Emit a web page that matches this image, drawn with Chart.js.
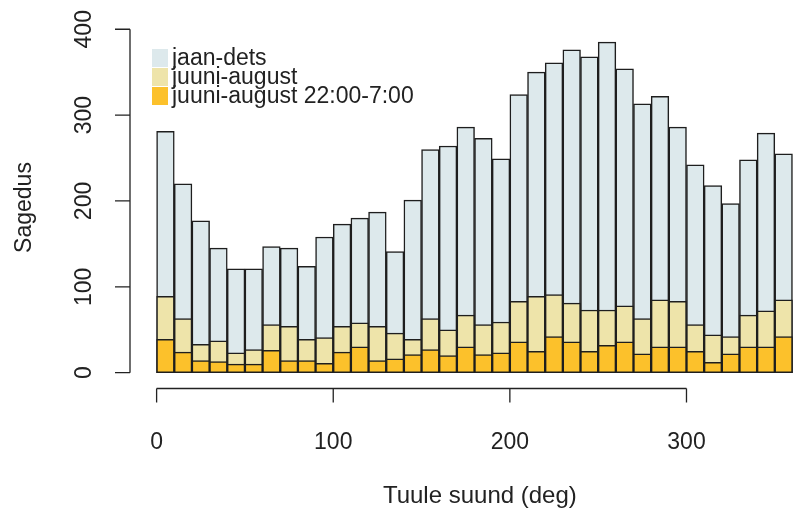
<!DOCTYPE html>
<html>
<head>
<meta charset="utf-8">
<script src="https://cdn.jsdelivr.net/npm/chart.js@4.4.1/dist/chart.umd.min.js"></script>
<style>
  html, body { margin: 0; padding: 0; background: #fff; }
  #wrap { width: 799px; height: 510px; }
</style>
</head>
<body>
<div id="wrap"><canvas id="hist"></canvas></div>
<script>
// 10-degree wind direction bins (bin centres)
const binCenters = [5, 15, 25, 35, 45, 55, 65, 75, 85, 95, 105, 115, 125, 135, 145, 155, 165, 175,
                    185, 195, 205, 215, 225, 235, 245, 255, 265, 275, 285, 295, 305, 315, 325, 335, 345, 355];

const jaanDets = [281, 220, 177, 145, 121, 121, 147, 145, 124, 158, 173, 180, 187, 141, 201, 260, 264, 286,
                  273, 249, 324, 350, 361, 376, 368, 385, 354, 313, 322, 286, 242, 218, 197, 248, 279, 255];
const juuniAugust = [89, 63, 33, 37, 23, 27, 56, 54, 39, 41, 54, 58, 54, 46, 39, 63, 50, 67,
                     56, 59, 83, 89, 91, 81, 73, 73, 78, 63, 85, 83, 56, 44, 42, 67, 72, 85];
const juuniAugustNight = [39, 24, 14, 13, 10, 10, 26, 14, 14, 11, 24, 30, 14, 16, 21, 27, 20, 30,
                          21, 23, 36, 25, 42, 36, 25, 32, 36, 22, 30, 30, 25, 12, 22, 30, 30, 42];

const xTicks = [0, 100, 200, 300];
const yTicks = [0, 100, 200, 300, 400];
const seriesLabels = ['jaan-dets', 'juuni-august', 'juuni-august 22:00-7:00'];
const seriesColors = ['#dde9ec', '#eee4aa', '#fcc12b'];
const xTitle = 'Tuule suund (deg)';

const FONT = "'Liberation Sans', Arial, sans-serif";
const INK = '#222';

const toPoints = (vals) => vals.map((v, i) => ({ x: binCenters[i], y: v }));

// R-style detached axes, rotated y labels, x title and the legend in the corner
const baseAxes = {
    id: 'baseAxes',
    afterDraw(chart) {
        const { ctx, chartArea } = chart;
        const x = chart.scales.x, y = chart.scales.y;
        ctx.save();
        ctx.strokeStyle = INK;
        ctx.lineWidth = 1.3;

        const axY = chartArea.bottom + 2.5;
        const axX = chartArea.left - 1;
        ctx.beginPath();
        ctx.moveTo(x.getPixelForValue(xTicks[0]), axY);
        ctx.lineTo(x.getPixelForValue(xTicks[xTicks.length - 1]), axY);
        xTicks.forEach(t => {
            const px = x.getPixelForValue(t);
            ctx.moveTo(px, axY);
            ctx.lineTo(px, axY + 14);
        });
        ctx.moveTo(axX, y.getPixelForValue(yTicks[0]));
        ctx.lineTo(axX, y.getPixelForValue(yTicks[yTicks.length - 1]));
        yTicks.forEach(t => {
            const py = y.getPixelForValue(t);
            ctx.moveTo(axX, py);
            ctx.lineTo(axX - 15, py);
        });
        ctx.stroke();

        ctx.fillStyle = INK;
        ctx.font = `23px ${FONT}`;
        ctx.textAlign = 'center';
        ctx.textBaseline = 'middle';
        yTicks.forEach(t => {
            ctx.save();
            ctx.translate(axX - 45, y.getPixelForValue(t));
            ctx.rotate(-Math.PI / 2);
            ctx.fillText(String(t), 0, 0);
            ctx.restore();
        });

        // x title is centred on R's full plot region, which runs past the right edge
        ctx.font = `24px ${FONT}`;
        ctx.fillText(xTitle, x.getPixelForValue(183), 496);

        // legend (no border, like legend(bty = "n"))
        ctx.font = `23px ${FONT}`;
        ctx.textAlign = 'left';
        seriesLabels.forEach((lab, i) => {
            const top = 49 + i * 19;
            ctx.fillStyle = seriesColors[i];
            ctx.fillRect(152, top, 16, 18);
            ctx.fillStyle = INK;
            ctx.fillText(lab, 172, top + 10);
        });
        ctx.restore();
    }
};

new Chart(document.getElementById('hist'), {
    type: 'bar',
    data: {
        datasets: [
            { label: seriesLabels[2], data: toPoints(juuniAugustNight), backgroundColor: seriesColors[2], order: 1 },
            { label: seriesLabels[1], data: toPoints(juuniAugust), backgroundColor: seriesColors[1], order: 2 },
            { label: seriesLabels[0], data: toPoints(jaanDets), backgroundColor: seriesColors[0], order: 3 }
        ]
    },
    options: {
        responsive: true,
        maintainAspectRatio: false,
        animation: false,
        layout: { padding: { top: 29, left: 0, right: 0, bottom: 0 } },
        datasets: {
            bar: {
                grouped: false,
                barPercentage: 1,
                categoryPercentage: 1,
                borderWidth: 1.5,
                borderColor: '#1e1e1e',
                borderSkipped: false
            }
        },
        plugins: {
            legend: { display: false },
            tooltip: { enabled: false }
        },
        scales: {
            x: {
                type: 'linear',
                offset: false,
                min: -14.5,
                max: 363.7,
                grid: { display: false },
                border: { display: false },
                afterBuildTicks: (s) => { s.ticks = xTicks.map(v => ({ value: v })); },
                afterFit: (s) => { s.height = 124; },
                ticks: { font: { family: FONT, size: 23 }, color: INK, padding: 35, maxRotation: 0 }
            },
            y: {
                min: -15.5,
                max: 400.3,
                grid: { display: false },
                border: { display: false },
                ticks: { display: false },
                afterFit: (s) => { s.width = 131; },
                title: {
                    display: true,
                    text: 'Sagedus',
                    font: { family: FONT, size: 23 },
                    color: INK,
                    padding: { top: 11, bottom: 0 }
                }
            }
        }
    },
    plugins: [baseAxes]
});
</script>
</body>
</html>
